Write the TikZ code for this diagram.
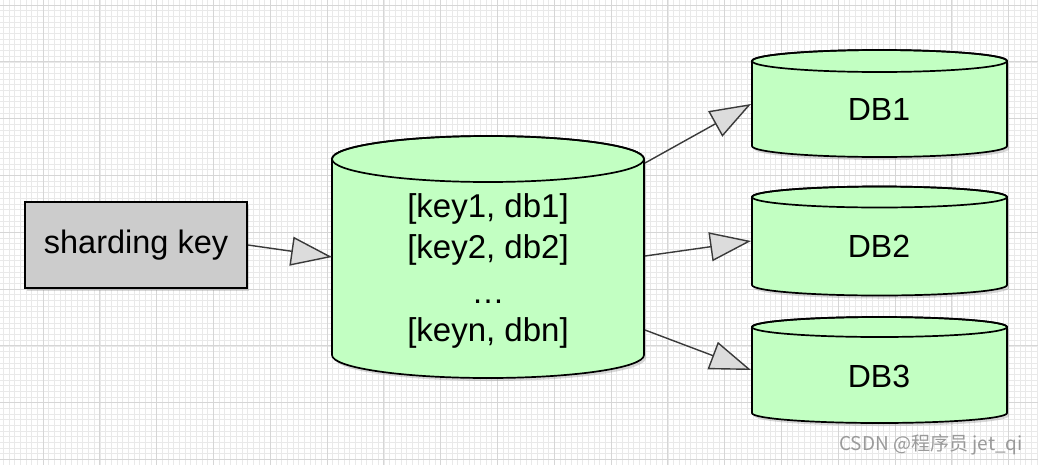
\documentclass[tikz,border=0pt]{standalone}
\usepackage{fontspec}
\setmainfont{Liberation Sans}
\newfontfamily\cjkfont{Noto Sans CJK SC}
\usetikzlibrary{arrows.meta,shadows}
\definecolor{cylgreen}{HTML}{C2FFC2}
\definecolor{boxgrey}{HTML}{CCCCCC}
\definecolor{tipfill}{HTML}{DCDCDC}
\definecolor{linegrey}{HTML}{3A3A3A}
\definecolor{gridminor}{HTML}{E9E9E9}
\definecolor{gridmajor}{HTML}{D6D6D6}
\definecolor{wmgrey}{HTML}{9A9A9A}

\tikzset{
  shapeline/.style={draw=black, line width=1.7pt},
  softshadow/.style={drop shadow={opacity=0.3, shadow xshift=2pt, shadow yshift=-3pt}},
  cylbody/.style={shapeline, fill=cylgreen, softshadow},
  keybox/.style={shapeline, fill=boxgrey, softshadow, minimum width=222pt, minimum height=86pt, inner sep=0pt, font=\fontsize{32.5}{38}\selectfont},
  dblbl/.style={inner sep=0pt, anchor=base, font=\fontsize{32}{38}\selectfont},
  maplbl/.style={inner sep=0pt, anchor=base, font=\fontsize{33}{40}\selectfont},
  conn/.style={draw=linegrey, line width=1.4pt, -{Triangle[length=41pt, width=29pt, fill=tipfill]}},
  wmark/.style={inner sep=0pt, anchor=base east, text=wmgrey, font=\cjkfont\fontsize{19}{21}\selectfont},
  minorgrid/.style={draw=gridminor, line width=0.6pt},
  majorgrid/.style={draw=gridmajor, line width=1pt}
}

% #1 x left, #2 x right, #3 y of top ellipse centre, #4 y of bottom ellipse centre, #5 y radius
\newcommand\dbshape[5]{%
  \pgfmathsetmacro\myRX{(#2-#1)/2}%
  \pgfmathsetmacro\myCX{(#1+#2)/2}%
  \path[cylbody] (#1,-#3) -- (#1,-#4)
     arc[start angle=180, end angle=360, x radius=\myRX, y radius=#5]
     -- (#2,-#3)
     arc[start angle=0, end angle=180, x radius=\myRX, y radius=#5] -- cycle;
  \draw[shapeline] (\myCX,-#3) ellipse[x radius=\myRX, y radius=#5];
}

\begin{document}
\begin{tikzpicture}[x=1pt, y=1pt]
  \useasboundingbox (0,0) rectangle (1038,-464);
  \fill[white] (0,0) rectangle (1038,-464);
  \begin{scope}
    \clip (0,0) rectangle (1038,-464);
    \draw[minorgrid, shift={(-13.8,-5)}] (-10,20) grid[step=5.68pt] (1070,-480);
    \draw[majorgrid, shift={(-13.8,-5)}] (-10,20) grid[step=56.8pt] (1070,-480);
  \end{scope}

  % sharding key box
  \node[keybox] (sk) at (136,-245) {sharding key};

  % cylinders
  \dbshape{332}{644}{159}{355}{23}
  \dbshape{752}{1007}{61}{146}{11}
  \dbshape{752}{1007}{197}{285}{10.5}
  \dbshape{752}{1007}{327}{413}{10}

  % texts
  \node[maplbl] (m1) at (488,-217) {[key1, db1]};
  \node[maplbl] (m2) at (488,-258) {[key2, db2]};
  \node[maplbl] (m3) at (488,-303) {…};
  \node[maplbl] (m4) at (488,-341) {[keyn, dbn]};
  \node[dblbl] (db1) at (879,-120) {DB1};
  \node[dblbl] (db2) at (879,-257) {DB2};
  \node[dblbl] (db3) at (879,-387) {DB3};

  % connector end points on cylinder sides
  \coordinate (mainIn) at (332,-257);
  \coordinate (mainOut1) at (645,-163);
  \coordinate (mainOut2) at (645,-256);
  \coordinate (mainOut3) at (645,-330);
  \coordinate (db1In) at (751,-104);
  \coordinate (db2In) at (751,-241);
  \coordinate (db3In) at (751,-370);

  \draw[conn] (sk.east) -- (mainIn);
  \draw[conn] (mainOut1) -- (db1In);
  \draw[conn] (mainOut2) -- (db2In);
  \draw[conn] (mainOut3) -- (db3In);

  \node[wmark] (wm) at (1023,-450) {CSDN @程序员 jet\_qi};
\end{tikzpicture}
\end{document}
